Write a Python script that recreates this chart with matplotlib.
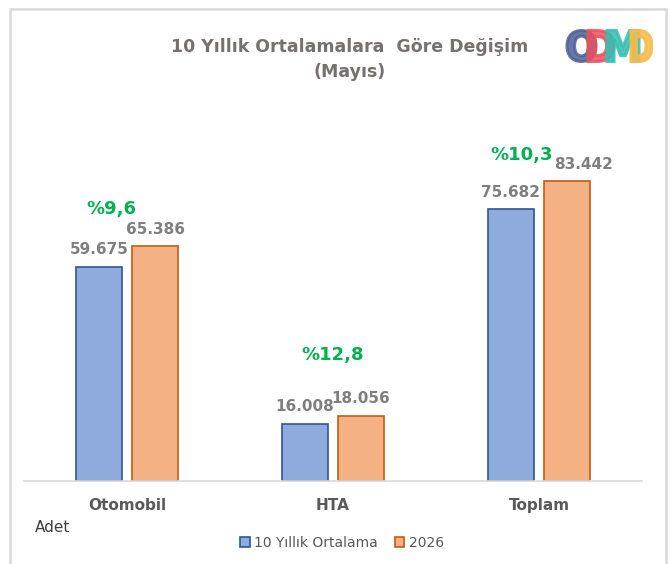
import matplotlib
matplotlib.use("Agg")
import matplotlib.pyplot as plt
from matplotlib.patches import Rectangle, PathPatch
from matplotlib.textpath import TextPath
from matplotlib.font_manager import FontProperties
import matplotlib.transforms as mtransforms
import numpy as np

categories = ["Otomobil", "HTA", "Toplam"]
avg_10y = [59675, 16008, 75682]
year_2026 = [65386, 18056, 83442]
series_names = ["10 Yıllık Ortalama", "2026"]
pct_labels = ["%9,6", "%12,8", "%10,3"]

W, H = 670, 564
fig = plt.figure(figsize=(W / 100, H / 100), dpi=100)

# outer light frame
fig.patches.append(Rectangle((10 / W, -0.05), 656 / W, 1 - 9 / H + 0.05,
                             transform=fig.transFigure, fill=False,
                             edgecolor="#D9D9D9", linewidth=1.8))

ax = fig.add_axes([24 / W, 1 - 481 / H, 618 / W, (481 - 122) / H])
x = np.arange(len(categories))
bw = 0.223
off = 0.136
b1 = ax.bar(x - off, avg_10y, bw, color="#8FAADC", edgecolor="#2F5597", linewidth=1.2,
            label=series_names[0])
b2 = ax.bar(x + off, year_2026, bw, color="#F4B183", edgecolor="#C55A11", linewidth=1.2,
            label=series_names[1])
ax.set_xlim(-0.5, 2.5)
ax.set_ylim(0, 100000)

def fmt(v):
    return f"{v:,}".replace(",", ".")

# label nudges (the source chart pushes the last label to the right)
nudge = {(1, 2): 12}
for si, bars in enumerate((b1, b2)):
    for ci, r in enumerate(bars):
        ax.annotate(fmt(int(r.get_height())), (r.get_x() + r.get_width() / 2, r.get_height()),
                    xytext=(nudge.get((si, ci), 0), 7), textcoords="offset points",
                    ha="center", va="bottom",
                    fontsize=11, fontweight="bold", color="#7F7F7F")

# percentage change labels (placed like in the source)
pct_dx = [-0.078, 0.0, -0.085]
pct_y = [75800, 35100, 90800]
for i, t in enumerate(pct_labels):
    ax.text(x[i] + pct_dx[i], pct_y[i], t, ha="center", va="center",
            fontsize=13, fontweight="bold", color="#00B050")

for s in ["top", "right", "left"]:
    ax.spines[s].set_visible(False)
ax.spines["bottom"].set_color("#D9D9D9")
ax.spines["bottom"].set_linewidth(1.2)
ax.set_yticks([])
ax.set_xticks(x)
ax.set_xticklabels(categories, fontsize=11, fontweight="bold", color="#595959")
ax.tick_params(axis="x", length=0, pad=12)

fig.text(350 / W, 1 - 47 / H, "10 Yıllık Ortalamalara  Göre Değişim", ha="center", va="center",
         fontsize=12.5, fontweight="bold", color="#767171")
fig.text(350 / W, 1 - 72 / H, "(Mayıs)", ha="center", va="center",
         fontsize=12.5, fontweight="bold", color="#767171")

fig.text(35 / W, 1 - 527 / H, "Adet", ha="left", va="center", fontsize=11, color="#404040")

leg = fig.legend(handles=[b1, b2], labels=series_names, loc="center",
                 bbox_to_anchor=(342 / W, 1 - 543 / H), ncol=2, frameon=False,
                 fontsize=10, handlelength=0.7, handleheight=0.7, handletextpad=0.3,
                 columnspacing=1.2)
for t in leg.get_texts():
    t.set_color("#595959")

# logo
lax = fig.add_axes([563 / W, 1 - 64 / H, 90 / W, 36 / H])
lax.set_xlim(0, 90)
lax.set_ylim(0, 36)
lax.axis("off")
fp = FontProperties(family="DejaVu Sans", weight="bold")
letters = ["O", "D", "M", "D"]
colors = ["#4E6197", "#E8525E", "#33BFB3", "#F8BB4A"]
xs = [4, 25, 44, 68]
widths = [29, 26, 32, 21]
for ch, c, x0, w in zip(letters, colors, xs, widths):
    tp = TextPath((0, 0), ch, size=1, prop=fp)
    ext = tp.get_extents()
    tr = mtransforms.Affine2D().translate(-ext.x0, -ext.y0).scale(w / ext.width, 31 / ext.height).translate(x0, 2.5)
    lax.add_patch(PathPatch(tr.transform_path(tp), facecolor=c, edgecolor=c, linewidth=2.2,
                            alpha=0.85))

fig.savefig("out.png", dpi=100)
